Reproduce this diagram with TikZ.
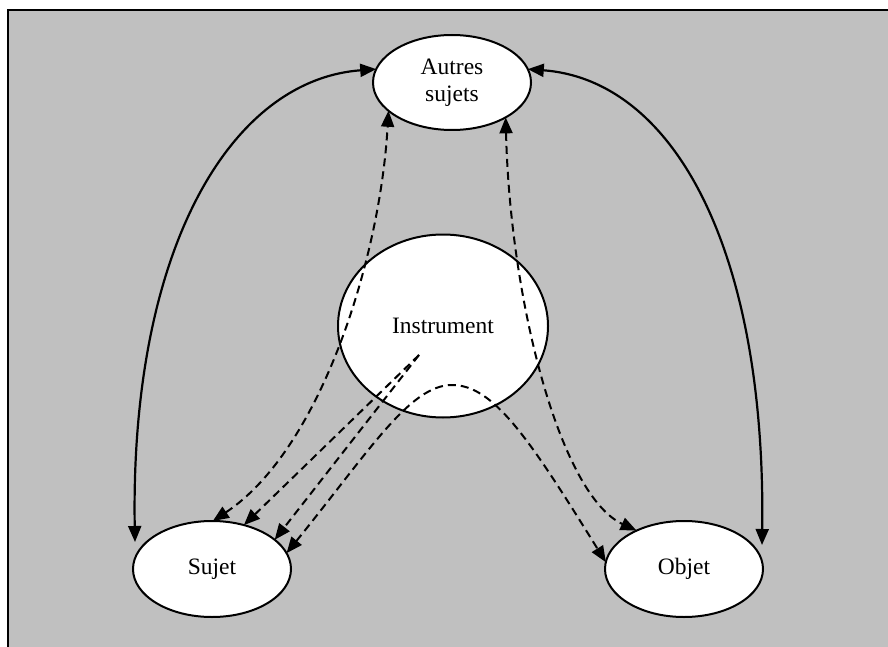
\documentclass[tikz,border=0pt]{standalone}
\usepackage{fontspec}
\setmainfont{Liberation Serif}
\usetikzlibrary{shapes.geometric,arrows.meta}
\definecolor{bggray}{RGB}{192,192,192}
\tikzset{
  bubble/.style={ellipse, draw=black, fill=white, line width=2pt, inner sep=0pt, outer sep=0pt,
    font=\fontsize{23.5}{27}\selectfont, align=center},
  solidlink/.style={line width=2.2pt, {Triangle[length=16pt,width=13pt]}-{Triangle[length=16pt,width=13pt]}},
  dashlink/.style={line width=2pt, dash pattern=on 8pt off 5pt},
  twohead/.style={{Triangle[length=16pt,width=13pt]}-{Triangle[length=16pt,width=13pt]}},
  onehead/.style={-{Triangle[length=16pt,width=13pt]}}
}
\begin{document}
\begin{tikzpicture}[x=1pt,y=-1pt]
\useasboundingbox (0,0) rectangle (888,647);
\clip (0,0) rectangle (888,647);
\fill[bggray] (8.3,9.7) rectangle (900,660);
\draw[line width=2pt] (8.3,660) -- (8.3,9.7) -- (900,9.7);

\node[bubble, minimum width=158pt, minimum height=95pt] (autres) at (452,82.5) {Autres\\sujets};
\node[bubble, minimum width=210pt, minimum height=183pt] (instr) at (443,326) {Instrument};
\node[bubble, minimum width=158pt, minimum height=96pt] (sujet) at (212,569) {\raisebox{4pt}{Sujet}};
\node[bubble, minimum width=158pt, minimum height=96pt] (objet) at (684,569) {\raisebox{4pt}{Objet}};

\coordinate (src) at (419,355);

% solid curves
\draw[solidlink] ([shift={(2,-27)}]sujet.west) .. controls (130,250) and (230,80) .. (autres.170);
\draw[solidlink] ([shift={(-1,-24)}]objet.east) .. controls (766,250) and (674,80) .. (autres.10);

% dashed links
\draw[dashlink, twohead] (sujet.89) .. controls (320,450) and (380,260) .. (autres.204);
\draw[dashlink, twohead] (autres.-33) .. controls (510,300) and (560,495) .. (objet.141);
\draw[dashlink, onehead] (src) -- (sujet.54);
\draw[dashlink, onehead] (src) -- (sujet.25);
\draw[dashlink, twohead] (sujet.12) .. controls (370,450) and (410,385) .. (452,385)
   .. controls (494,385) and (530,440) .. (objet.175);
\end{tikzpicture}
\end{document}
